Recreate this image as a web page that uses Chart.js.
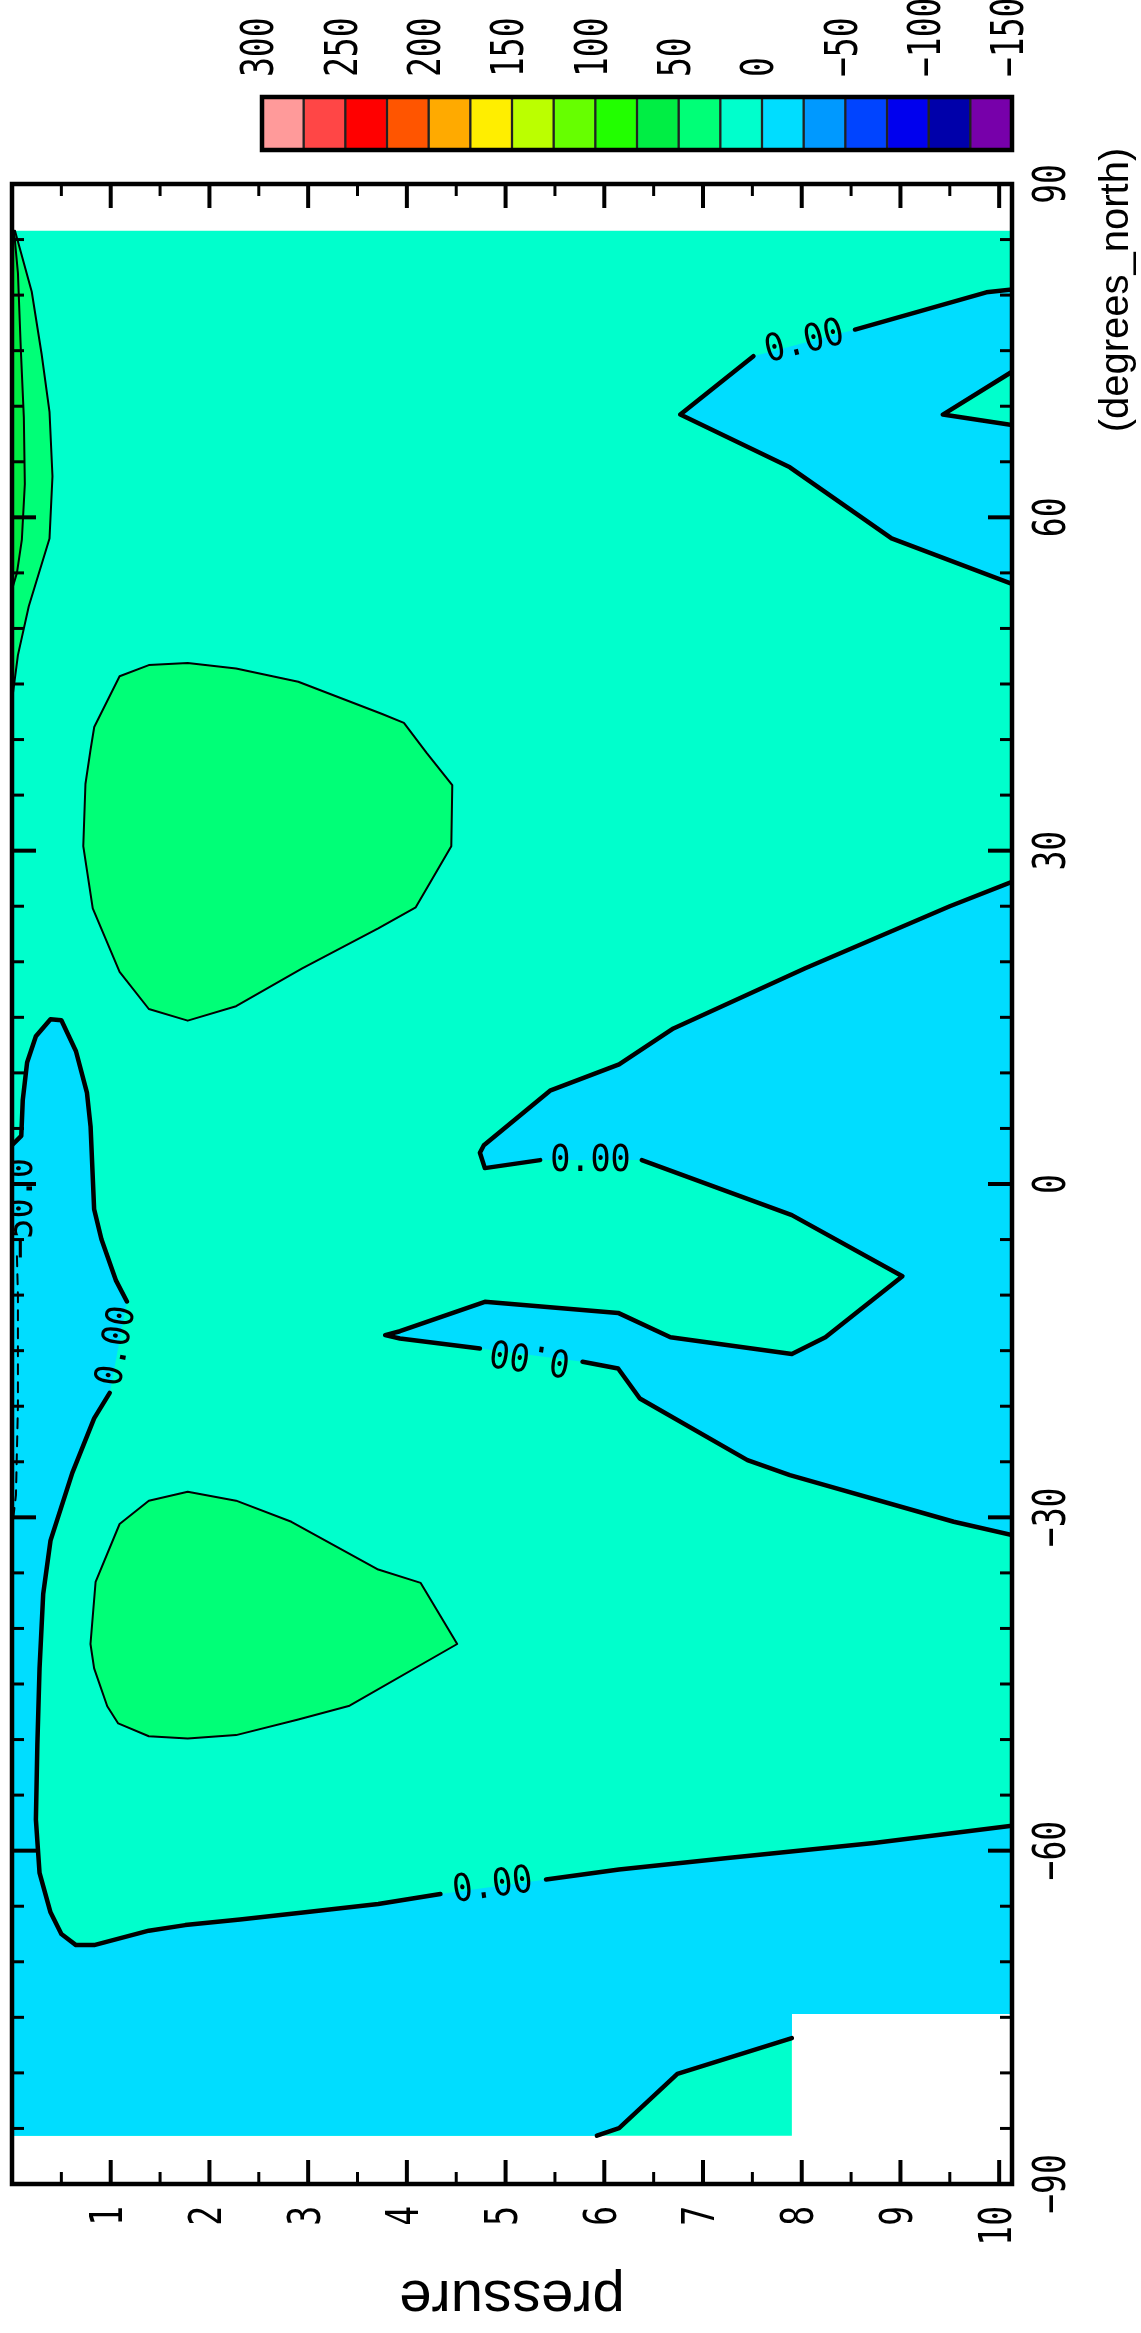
<!DOCTYPE html>
<html>
<head>
<meta charset="utf-8">
<script src="https://cdn.jsdelivr.net/npm/chart.js@4.4.1/dist/chart.umd.min.js"></script>
<style>
  html, body { margin: 0; padding: 0; background: #fff; }
  #wrap { position: relative; width: 1141px; height: 2333px; }
  #main { position: absolute; left: 0; top: 0; }
  #key { position: absolute; left: 230px; top: 0; }
</style>
</head>
<body>
<div id="wrap">
  <canvas id="main" width="1141" height="2333"></canvas>
  <canvas id="key" width="820" height="170"></canvas>
</div>
<script>
// axes
const pressureTicks = [1, 2, 3, 4, 5, 6, 7, 8, 9, 10];
const latTicks = [-90, -60, -30, 0, 30, 60, 90];
const pressureRange = [0, 10.13];
const latRange = [-90, 90];

// colour key (high -> low)
const keyEdges = [300, 275, 250, 225, 200, 175, 150, 125, 100, 75, 50, 25, 0, -25, -50, -75, -100, -125, -150];
const keyColors = ['#ff9a9a', '#ff4646', '#ff0000', '#ff5500', '#ffaa00', '#ffee00', '#bbff00', '#66ff00',
  '#22ff00', '#00ee44', '#00ff77', '#00ffcc', '#00ddff', '#0099ff', '#0044ff', '#0000ee', '#0000aa', '#7700aa'];
const keyTicks = [300, 250, 200, 150, 100, 50, 0, -50, -100, -150];

// where the field has data: [pressure, lat]
const dataEdge = [[0, 85.8], [10.13, 85.8], [10.13, -74.7], [7.9, -74.7], [7.9, -85.65], [0, -85.65]];

// zero contours, split where the labels sit
const zeroWest = [
  [[0, 3.5], [0.094, 4.33], [0.109, 7.55], [0.153, 10.94], [0.242, 13.3], [0.39, 14.83], [0.5, 14.73],
   [0.648, 11.95], [0.759, 8.23], [0.796, 5.18], [0.832, -2.27], [0.906, -4.98], [1.054, -8.7], [1.164, -10.57]],
  [[0.99, -18.8], [0.832, -21.1], [0.611, -26.0], [0.39, -32.1], [0.316, -36.9], [0.279, -43.6], [0.257, -50.4],
   [0.242, -57.2], [0.279, -62.0], [0.39, -65.55], [0.5, -67.5], [0.648, -68.5], [0.832, -68.5], [1.386, -67.2],
   [1.755, -66.7], [2.31, -66.2], [2.97, -65.55], [3.71, -64.8], [4.34, -63.9]],
  [[5.41, -62.6], [6.15, -61.7], [7.25, -60.65], [8.73, -59.3], [10.13, -57.75]]
];
const zeroSouth = [[5.925, -85.65], [6.15, -84.98], [6.74, -80.08], [7.9, -76.87]];
const zeroEast = [
  [[10.13, 27.2], [9.5, 25.0], [8.03, 19.4], [6.7, 14.0], [6.15, 10.77], [5.45, 8.4], [4.78, 3.49], [4.74, 2.81],
   [4.79, 1.43], [5.35, 2.15]],
  [[6.38, 2.15], [7.9, -2.8], [9.02, -8.3], [8.24, -13.8], [7.9, -15.3], [6.67, -13.8], [6.14, -11.6], [4.79, -10.6],
   [3.93, -13.25], [3.78, -13.6], [3.93, -13.9], [4.74, -14.8]],
  [[5.78, -16.0], [6.14, -16.6], [6.36, -19.3], [7.45, -24.85], [7.88, -26.2], [9.54, -30.4], [10.13, -31.6]]
];
const zeroNorth = [
  [[10.13, 80.5], [9.87, 80.25], [8.54, 76.9]],
  [[7.51, 74.5], [6.77, 69.25], [7.88, 64.5], [8.91, 58.1], [10.13, 54.0]]
];
const zeroNorthInner = [[10.13, 73.1], [9.43, 69.25], [10.13, 68.3]];

// 25 contours
const blobNorth = [[1.09, 45.7], [1.386, 46.7], [1.78, 46.9], [2.27, 46.4], [2.9, 45.2], [3.75, 42.3], [3.97, 41.5],
  [4.2, 38.8], [4.46, 35.9], [4.45, 30.4], [4.09, 24.9], [3.71, 23.0], [2.94, 19.4], [2.27, 16.0], [1.78, 14.7],
  [1.386, 15.75], [1.09, 19.1], [0.818, 24.8], [0.722, 30.4], [0.744, 36.0], [0.795, 39.05], [0.833, 41.13], [1.09, 45.7]];
const blobSouth = [[1.78, -27.7], [2.27, -28.5], [2.83, -30.4], [3.71, -34.7], [4.14, -35.9], [4.51, -41.4],
  [3.42, -46.95], [2.9, -48.2], [2.27, -49.6], [1.78, -49.9], [1.386, -49.7], [1.076, -48.55], [0.965, -47.0],
  [0.832, -43.6], [0.795, -41.4], [0.847, -35.8], [1.09, -30.6], [1.386, -28.5], [1.78, -27.7]];
const stripOuter = [[0.03, 85.8], [0.2, 80.3], [0.3, 74.7], [0.38, 69.5], [0.41, 63.7], [0.38, 58.1], [0.17, 52.0],
  [0.06, 47.6], [0, 43.5]];
// 50 contour
const stripInner = [[0.02, 85.8], [0.06, 82], [0.09, 75], [0.12, 69], [0.13, 63], [0.1, 58], [0.05, 55], [0, 53.5]];
// -50 contour hugging the left edge
const negEdge = [[0.05, -6.5], [0.06, -10], [0.06, -20], [0.04, -28], [0, -31]];

// contour labels
const labelText = ['0.00', '0.00', '0.00', '0.00', '0.00', '\u221250.0'];
const labelPos = [[8.03, 75.7], [5.86, 2.1], [5.25, -15.4], [1.07, -14.6], [4.87, -63.25], [0.1, -2.2]];
const labelAngle = [-14, 0, 188.5, -79.5, -7.8, -90];

const xy = pts => pts.map(([x, y]) => ({ x, y }));
const rev = pts => pts.slice().reverse();

const shades = [
  { pts: dataEdge, color: keyColors[11] },
  { pts: [...zeroWest.flat(), dataEdge[2], dataEdge[3], ...rev(zeroSouth), dataEdge[5]], color: keyColors[12] },
  { pts: zeroEast.flat(), color: keyColors[12] },
  { pts: [...zeroNorth.flat(), ...rev(zeroNorthInner)], color: keyColors[12] },
  { pts: blobNorth, color: keyColors[10] },
  { pts: blobSouth, color: keyColors[10] },
  { pts: [...stripOuter, dataEdge[0]], color: keyColors[10] },
  { pts: [...stripInner, dataEdge[0]], color: keyColors[9] }
];
const strokes = [
  ...zeroWest.map(s => ({ pts: s, w: 4.5 })),
  { pts: zeroSouth, w: 4.5 },
  ...zeroEast.map(s => ({ pts: s, w: 4.5 })),
  ...zeroNorth.map(s => ({ pts: s, w: 4.5 })),
  { pts: zeroNorthInner, w: 4.5 },
  { pts: blobNorth, w: 2 },
  { pts: blobSouth, w: 2 },
  { pts: stripOuter, w: 2 },
  { pts: stripInner, w: 2 },
  { pts: negEdge, w: 2, dash: [10, 8] }
];

let order = 100;
const datasets = [];
shades.forEach(s => datasets.push({
  data: xy(s.pts), fill: 'shape', backgroundColor: s.color, borderWidth: 0,
  pointRadius: 0, tension: 0, order: order--
}));
strokes.forEach(s => datasets.push({
  data: xy(s.pts), fill: false, borderColor: '#000', borderWidth: s.w, borderDash: s.dash || [],
  borderJoinStyle: 'round', borderCapStyle: 'round', pointRadius: 0, tension: 0, order: order--
}));

const monoFont = 'DejaVu Sans Mono';
function rotText(ctx, txt, x, y, ang, size, align, sx, family, baseline) {
  ctx.save();
  ctx.translate(x, y);
  ctx.rotate(ang * Math.PI / 180);
  ctx.scale(sx, 1);
  ctx.font = size + 'px "' + (family || monoFont) + '"';
  ctx.textAlign = align;
  ctx.textBaseline = baseline || 'middle';
  ctx.fillStyle = '#000';
  ctx.fillText(txt, 0, 0);
  ctx.restore();
}
const fmt = v => (v < 0 ? '\u2212' + Math.abs(v) : String(v));

const framePlugin = {
  id: 'frame',
  afterDatasetsDraw(chart) {
    const { ctx, chartArea: a, scales: { x, y } } = chart;

    // contour labels, clipped to the plot
    ctx.save();
    ctx.beginPath();
    ctx.rect(a.left, a.top, a.right - a.left, a.bottom - a.top);
    ctx.clip();
    labelText.forEach((t, i) => {
      rotText(ctx, t, x.getPixelForValue(labelPos[i][0]), y.getPixelForValue(labelPos[i][1]),
        labelAngle[i], 38, 'center', 0.88);
    });
    ctx.restore();

    ctx.save();
    ctx.strokeStyle = '#000';
    ctx.lineCap = 'butt';
    const tick = (x0, y0, x1, y1, w) => {
      ctx.lineWidth = w;
      ctx.beginPath(); ctx.moveTo(x0, y0); ctx.lineTo(x1, y1); ctx.stroke();
    };
    // pressure ticks, top and bottom
    for (let v = 0.5; v < pressureRange[1]; v += 0.5) {
      const major = pressureTicks.includes(v);
      const px = x.getPixelForValue(v), len = major ? 24 : 12, w = major ? 4 : 3;
      tick(px, a.bottom, px, a.bottom - len, w);
      tick(px, a.top, px, a.top + len, w);
    }
    // latitude ticks, left and right
    for (let v = latRange[0] + 5; v < latRange[1]; v += 5) {
      const major = latTicks.includes(v);
      const py = y.getPixelForValue(v), len = major ? 24 : 12, w = major ? 4 : 3;
      tick(a.left, py, a.left + len, py, w);
      tick(a.right, py, a.right - len, py, w);
    }
    ctx.lineWidth = 4.5;
    ctx.lineJoin = 'miter';
    ctx.strokeRect(a.left, a.top, a.right - a.left, a.bottom - a.top);
    ctx.restore();

    pressureTicks.forEach(v => rotText(ctx, String(v), x.getPixelForValue(v), a.bottom + 22, -90, 44, 'right', 0.75));
    latTicks.forEach(v => rotText(ctx, fmt(v), a.right + 42, y.getPixelForValue(v), -90, 44, 'center', 0.75));

    rotText(ctx, '(degrees_north)', a.right + 105, a.top + 106, -90, 40, 'center', 1, 'Liberation Sans');
    rotText(ctx, 'pressure', (a.left + a.right) / 2, a.bottom + 97, 180, 58, 'center', 1, 'Liberation Sans', 'alphabetic');
  }
};

new Chart(document.getElementById('main'), {
  type: 'line',
  data: { datasets },
  options: {
    responsive: false,
    animation: false,
    devicePixelRatio: 1,
    layout: { padding: { left: 12, top: 184, right: 129, bottom: 149 } },
    scales: {
      x: { type: 'linear', min: pressureRange[0], max: pressureRange[1], display: false },
      y: { type: 'linear', min: latRange[0], max: latRange[1], display: false }
    },
    plugins: { legend: { display: false }, tooltip: { enabled: false } }
  },
  plugins: [framePlugin]
});

const keyPlugin = {
  id: 'keyFrame',
  afterDatasetsDraw(chart) {
    const { ctx, chartArea: a, scales: { x } } = chart;
    ctx.save();
    ctx.strokeStyle = '#000';
    ctx.lineWidth = 4.5;
    ctx.strokeRect(a.left, a.top, a.right - a.left, a.bottom - a.top);
    ctx.restore();
    keyTicks.forEach(v => rotText(ctx, fmt(v), x.getPixelForValue(v), 77, -90, 44, 'left', 0.75));
  }
};

new Chart(document.getElementById('key'), {
  type: 'bar',
  data: {
    labels: ['key'],
    datasets: keyColors.map((c, i) => ({
      data: [[keyEdges[i + 1], keyEdges[i]]],
      backgroundColor: c, borderColor: '#222', borderWidth: 1.5, borderSkipped: false,
      barPercentage: 1, categoryPercentage: 1, grouped: false
    }))
  },
  options: {
    indexAxis: 'y',
    responsive: false,
    animation: false,
    devicePixelRatio: 1,
    layout: { padding: { left: 32, right: 38, top: 97, bottom: 20 } },
    scales: {
      x: { type: 'linear', min: keyEdges[keyEdges.length - 1], max: keyEdges[0], reverse: true, display: false },
      y: { display: false }
    },
    plugins: { legend: { display: false }, tooltip: { enabled: false } }
  },
  plugins: [keyPlugin]
});
</script>
</body>
</html>
